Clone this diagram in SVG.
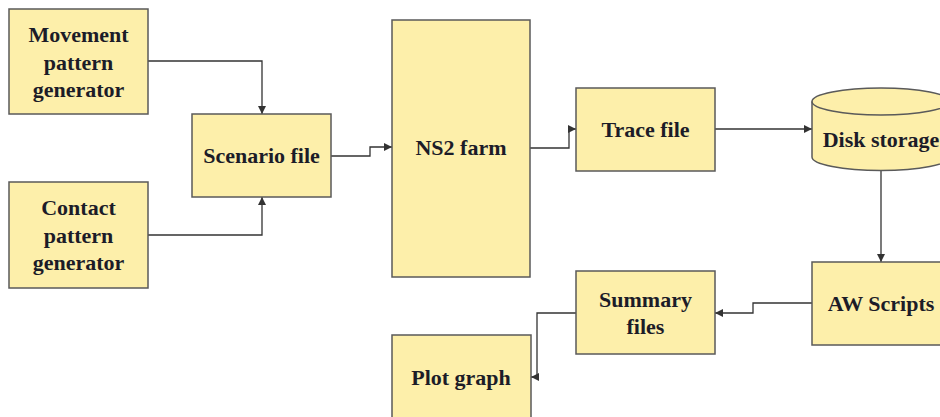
<svg xmlns="http://www.w3.org/2000/svg" width="940" height="417" viewBox="0 0 940 417">
  <style>
    .box { fill: #fdefaa; stroke: #5a5a5a; stroke-width: 1.5; }
    .lbl { font-family: 'Liberation Serif', serif; font-weight: 700; font-size: 22px; fill: #1c1c28; text-anchor: middle; }
    .wire { fill: none; stroke: #333; stroke-width: 1.3; }
  </style>
  <defs>
    <marker id="arrow" viewBox="0 0 10 10" refX="10" refY="5" markerWidth="8" markerHeight="8" markerUnits="userSpaceOnUse" orient="auto">
      <path d="M0,0 L10,5 L0,10 z" fill="#333"/>
    </marker>
  </defs>
  <rect width="940" height="417" fill="#ffffff"/>

  <g id="connectors">
    <path class="wire" marker-end="url(#arrow)" d="M148,61 H262 V114"/>
    <path class="wire" marker-end="url(#arrow)" d="M148,235 H262 V197"/>
    <path class="wire" marker-end="url(#arrow)" d="M331,156 H370 V147 H392"/>
    <path class="wire" marker-end="url(#arrow)" d="M530,148 H569 V129 H576"/>
    <path class="wire" marker-end="url(#arrow)" d="M715,129 H812"/>
    <path class="wire" marker-end="url(#arrow)" d="M881,170 V262"/>
    <path class="wire" marker-end="url(#arrow)" d="M812,303 H753 V313 H715"/>
    <path class="wire" marker-end="url(#arrow)" d="M576,313 H537 V377 H531"/>
  </g>

  <g id="movement">
    <rect class="box" x="9" y="9" width="139" height="105"/>
    <text class="lbl" x="78.5" y="42">Movement</text>
    <text class="lbl" x="78.5" y="70">pattern</text>
    <text class="lbl" x="78.5" y="97">generator</text>
  </g>
  <g id="contact">
    <rect class="box" x="9" y="182" width="139" height="106"/>
    <text class="lbl" x="78.5" y="215">Contact</text>
    <text class="lbl" x="78.5" y="243">pattern</text>
    <text class="lbl" x="78.5" y="270">generator</text>
  </g>
  <g id="scenario">
    <rect class="box" x="192" y="114" width="139" height="83"/>
    <text class="lbl" x="261.5" y="163">Scenario file</text>
  </g>
  <g id="ns2farm">
    <rect class="box" x="392" y="20" width="138" height="257"/>
    <text class="lbl" x="461" y="155">NS2 farm</text>
  </g>
  <g id="trace">
    <rect class="box" x="576" y="88" width="139" height="83"/>
    <text class="lbl" x="645.5" y="137">Trace file</text>
  </g>
  <g id="disk">
    <path class="box" d="M812,101.5 V157 A69,13.5 0 0 0 950,157 V101.5 A69,13.5 0 0 0 812,101.5 Z"/>
    <path class="box" style="fill:none" d="M812,101.5 A69,13.5 0 0 0 950,101.5"/>
    <text class="lbl" x="881" y="147">Disk storage</text>
  </g>
  <g id="awscripts">
    <rect class="box" x="812" y="262" width="138" height="83"/>
    <text class="lbl" x="881" y="311">AW Scripts</text>
  </g>
  <g id="summary">
    <rect class="box" x="576" y="271" width="139" height="83"/>
    <text class="lbl" x="645.5" y="307">Summary</text>
    <text class="lbl" x="645.5" y="334">files</text>
  </g>
  <g id="plot">
    <rect class="box" x="392" y="335" width="139" height="95"/>
    <text class="lbl" x="461" y="385">Plot graph</text>
  </g>
</svg>
